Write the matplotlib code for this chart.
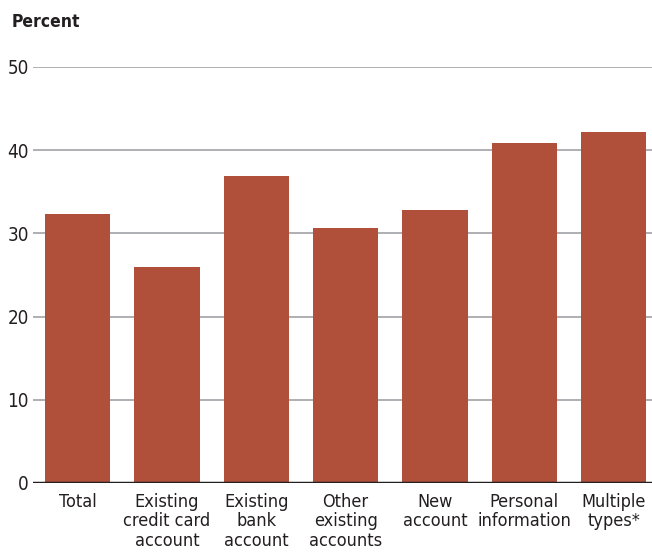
import matplotlib
matplotlib.use("Agg")
import matplotlib.pyplot as plt

categories = ["Total", "Existing\ncredit card\naccount", "Existing\nbank\naccount",
              "Other\nexisting\naccounts", "New\naccount", "Personal\ninformation",
              "Multiple\ntypes*"]
values = [32.3, 26.0, 36.9, 30.6, 32.8, 40.9, 42.2]
yticks = [0, 10, 20, 30, 40, 50]

plt.rcParams['font.family'] = ['DejaVu Sans']
plt.rcParams['font.stretch'] = 'condensed'

W, H = 652, 555
fig = plt.figure(figsize=(W/100, H/100), dpi=100)
ax = fig.add_axes([33/W, 72/H, (652-33)/W, (483-67)/H])

x = list(range(len(categories)))
ax.bar(x, values, width=0.73, color="#B0503A", zorder=3)
ax.set_ylim(0, 50)
ax.set_xlim(-0.5, 6.43)
ax.set_yticks(yticks)
ax.set_yticklabels([str(t) for t in yticks], fontsize=13.5, color="#231F20")
ax.set_xticks(x)
ax.set_xticklabels(categories, fontsize=13, color="#231F20", linespacing=1.12)
ax.tick_params(axis='y', length=0, pad=3)
ax.tick_params(axis='x', length=0, pad=7)
for t in yticks[1:]:
    ax.axhline(t, color="#A7A9AC", lw=1.3, zorder=1)
ax.axhline(0, color="#231F20", lw=2.5, zorder=4)
for s in ax.spines.values():
    s.set_visible(False)
fig.text(12/W, 1 - 22/H, "Percent", fontsize=12.5, fontweight="bold", color="#231F20",
         va="center", ha="left")
fig.savefig("out.png", dpi=100)
